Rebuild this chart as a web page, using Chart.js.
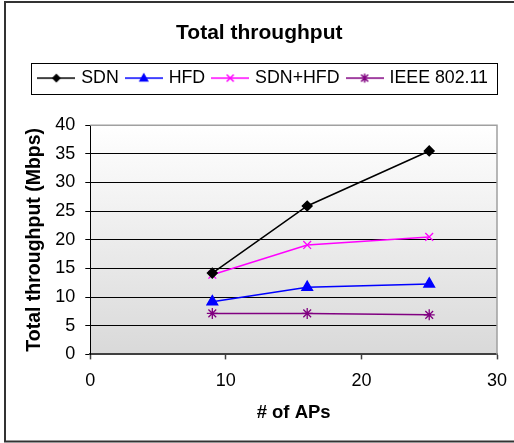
<!DOCTYPE html>
<html>
<head>
<meta charset="utf-8">
<script src="https://cdn.jsdelivr.net/npm/chart.js@4.4.0/dist/chart.umd.min.js"></script>
<style>
  body { margin: 0; background: #fff; }
  canvas { display: block; }
</style>
</head>
<body>
<canvas id="myChart" width="514" height="443"></canvas>
<script>
const aps = [9, 16, 25];
const sdn = [14.2, 25.9, 35.5];
const hfd = [9.2, 11.7, 12.3];
const sdnHfd = [13.9, 19.1, 20.5];
const ieee = [7.15, 7.15, 6.9];
const xTicks = [0, 10, 20, 30];
const yTicks = [0, 5, 10, 15, 20, 25, 30, 35, 40];

const FONT = '"Liberation Sans", Arial, sans-serif';

function pts(vals) {
  return aps.map((x, i) => ({x: x, y: vals[i]}));
}

// small picture for the legend: line with the marker in the middle
function legendIcon(color, kind) {
  const c = document.createElement('canvas');
  c.width = 38; c.height = 14;
  const g = c.getContext('2d');
  g.strokeStyle = color; g.fillStyle = color; g.lineWidth = 1.5;
  g.beginPath(); g.moveTo(0, 7); g.lineTo(38, 7); g.stroke();
  g.beginPath();
  if (kind === 'diamond') {
    g.moveTo(19, 2.5); g.lineTo(23.5, 7); g.lineTo(19, 11.5); g.lineTo(14.5, 7); g.closePath(); g.fill();
  } else if (kind === 'triangle') {
    g.moveTo(19, 1.5); g.lineTo(24, 10.5); g.lineTo(14, 10.5); g.closePath(); g.fill();
  } else if (kind === 'x') {
    g.moveTo(15.5, 3.5); g.lineTo(22.5, 10.5); g.moveTo(22.5, 3.5); g.lineTo(15.5, 10.5); g.stroke();
  } else {
    g.moveTo(15.5, 3.5); g.lineTo(22.5, 10.5); g.moveTo(22.5, 3.5); g.lineTo(15.5, 10.5);
    g.moveTo(19, 2.5); g.lineTo(19, 11.5); g.stroke();
  }
  return c;
}

const icons = [
  legendIcon('#000000', 'diamond'),
  legendIcon('#0000ff', 'triangle'),
  legendIcon('#ff00ff', 'x'),
  legendIcon('#800080', 'star')
];

const decor = {
  id: 'decor',
  beforeDraw(chart) {
    const {ctx, chartArea: a} = chart;
    ctx.save();
    const grad = ctx.createLinearGradient(0, a.top, 0, a.bottom);
    grad.addColorStop(0, '#ffffff');
    grad.addColorStop(1, '#d9d9d9');
    ctx.fillStyle = grad;
    ctx.fillRect(a.left, a.top, a.right - a.left, a.bottom - a.top);
    ctx.restore();
  },
  afterDraw(chart) {
    const {ctx, chartArea: a} = chart;
    ctx.save();
    // gray border top and right of plot
    ctx.strokeStyle = '#a0a0a0';
    ctx.lineWidth = 1.5;
    ctx.beginPath();
    ctx.moveTo(a.left, a.top); ctx.lineTo(a.right, a.top); ctx.lineTo(a.right, a.bottom);
    ctx.stroke();
    // legend frame
    const hb = chart.legend.legendHitBoxes;
    if (hb && hb.length) {
      const first = hb[0], last = hb[hb.length - 1];
      const l = first.left - 9, r = last.left + last.width + 9;
      const t = first.top - 6.5, b = first.top + first.height + 7;
      ctx.strokeStyle = '#000';
      ctx.lineWidth = 1;
      ctx.strokeRect(Math.round(l) + 0.5, Math.round(t) + 0.5, Math.round(r - l), Math.round(b - t));
    }
    // outer frame
    ctx.strokeStyle = '#333';
    ctx.lineWidth = 2;
    ctx.beginPath();
    ctx.moveTo(520, 2); ctx.lineTo(5, 2); ctx.lineTo(5, 441.5); ctx.lineTo(520, 441.5);
    ctx.stroke();
    ctx.restore();
  }
};

const names = ['SDN', 'HFD', 'SDN+HFD', 'IEEE 802.11'];

const data = {
  datasets: [
    {label: names[0], data: pts(sdn), borderColor: '#000000', backgroundColor: '#000000',
     pointStyle: 'rectRot', pointRadius: 4.8, borderWidth: 1.5},
    {label: names[1], data: pts(hfd), borderColor: '#0000ff', backgroundColor: '#0000ff',
     pointStyle: 'triangle', pointRadius: 6, borderWidth: 1.5},
    {label: names[2], data: pts(sdnHfd), borderColor: '#ff00ff', backgroundColor: '#ff00ff',
     pointStyle: 'crossRot', pointRadius: 5.5, borderWidth: 1.5, pointBorderWidth: 1.3},
    {label: names[3], data: pts(ieee), borderColor: '#800080', backgroundColor: '#800080',
     pointStyle: 'star', pointRadius: 5.5, borderWidth: 1.5, pointBorderWidth: 1.3},
  ],
};

const config = {
  type: 'line',
  data: data,
  plugins: [decor],
  options: {
    responsive: false,
    animation: false,
    layout: { autoPadding: false, padding: { left: 21.6, right: 17, top: 0, bottom: 18.5 } },
    plugins: {
      title: {
        display: true, text: 'Total throughput', color: '#000',
        font: { family: FONT, size: 21, weight: 'bold' },
        padding: { top: 20.5, bottom: 14.5 }
      },
      subtitle: {
        display: true, text: '', weight: 500,
        font: { size: 1 }, padding: { top: 0, bottom: 27 }
      },
      legend: {
        display: true, position: 'top', align: 'end',
        labels: {
          usePointStyle: true, pointStyleWidth: 32, padding: 9, color: '#000',
          font: { family: FONT, size: 17.8 },
          generateLabels(chart) {
            return chart.data.datasets.map((ds, i) => ({
              text: ds.label, pointStyle: icons[i], fillStyle: ds.borderColor,
              strokeStyle: ds.borderColor, lineWidth: 0, hidden: false, datasetIndex: i,
              fontColor: '#000'
            }));
          }
        }
      },
      tooltip: { enabled: false }
    },
    scales: {
      x: {
        type: 'linear', min: 0, max: 30,
        afterBuildTicks(scale) { scale.ticks = xTicks.map(v => ({value: v})); },
        afterFit(scale) { scale.paddingRight = 10; },
        ticks: { color: '#000', padding: 12, font: { family: FONT, size: 18, lineHeight: 1.05 } },
        grid: { drawOnChartArea: false, drawTicks: true, tickLength: 5, tickColor: '#404040', tickWidth: 1.5 },
        border: { color: '#404040', width: 2 },
        title: { display: true, text: '# of APs', color: '#000',
                 font: { family: FONT, size: 18.5, weight: 'bold' }, padding: { top: 0, bottom: 0 } }
      },
      y: {
        min: 0, max: 40,
        afterBuildTicks(scale) { scale.ticks = yTicks.map(v => ({value: v})); },
        ticks: { color: '#000', padding: 10, font: { family: FONT, size: 18 } },
        grid: {
          drawTicks: true, tickLength: 5, tickColor: '#000', lineWidth: 1,
          color: c => (c.tick && (c.tick.value === 40 || c.tick.value === 0)) ? 'rgba(0,0,0,0)' : '#000'
        },
        border: { color: '#000', width: 1 },
        title: { display: true, text: 'Total throughput (Mbps)', color: '#000',
                 font: { family: FONT, size: 19.5, weight: 'bold', lineHeight: 1.05 }, padding: { top: 3.2, bottom: 0 } }
      }
    }
  }
};

const myChart = new Chart(document.getElementById('myChart').getContext('2d'), config);
</script>
</body>
</html>
